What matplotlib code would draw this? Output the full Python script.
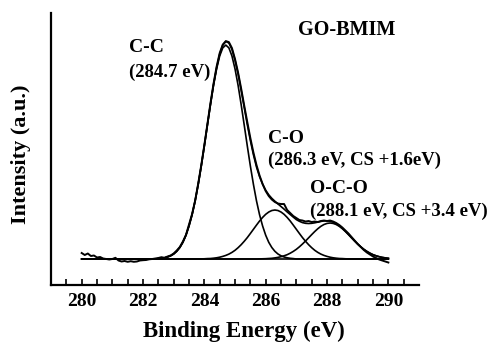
import numpy as np
import matplotlib
matplotlib.use("Agg")
import matplotlib.pyplot as plt

# Binding energy grid (eV), 280.0 ... 290.0 in 0.1 eV steps
energy = [round(280.0 + 0.1 * i, 1) for i in range(101)]

# Fitted components (arbitrary intensity units)
cc_peak = [0]*25 + [0.4, 0.7, 1.2, 2.0, 3.2, 5.0, 7.7, 11.5, 16.7, 23.8, 33.0, 44.3, 58.2, 74.7,
           93.1, 113.2, 134.0, 154.5, 173.8, 190.2, 203.1, 211.2, 214.0,
           211.2, 203.1, 190.2, 173.8, 154.5, 134.0, 113.2, 93.1, 74.7, 58.2, 44.3, 33.0,
           23.8, 16.7, 11.5, 7.7, 5.0, 3.2, 2.0, 1.2, 0.7, 0.4] + [0]*31
co_peak = [0]*39 + [0.1, 0.2, 0.4, 0.5, 0.8, 1.2, 1.8, 2.6, 3.6, 4.9, 6.6, 8.7, 11.3, 14.3, 17.7,
           21.4, 25.5, 29.7, 33.9, 38.0, 41.6, 44.7, 47.0, 48.5, 49.0,
           48.5, 47.0, 44.7, 41.6, 38.0, 33.9, 29.7, 25.5, 21.4, 17.7, 14.3, 11.3, 8.7, 6.6,
           4.9, 3.6, 2.6, 1.8, 1.2, 0.8, 0.5, 0.4, 0.2, 0.1] + [0]*13
oco_peak = [0]*58 + [0.1, 0.2, 0.3, 0.5, 0.7, 1.1, 1.6, 2.3, 3.2, 4.3, 5.8, 7.6, 9.7, 12.2, 15.0,
            18.0, 21.2, 24.4, 27.5, 30.3, 32.7, 34.5, 35.6, 36.0,
            35.6, 34.5, 32.7, 30.3, 27.5, 24.4, 21.2, 18.0, 15.0, 12.2, 9.7, 7.6, 5.8, 4.3,
            3.2, 2.3, 1.6, 1.1, 0.7]

measured = [6, 4, 5.5, 3, 3.5, 1.5, 2, 0.5, 0, -0.5,
            0, 1.2, -1.5, -2.5, -2, -2.8, -2.2, -2.8, -2.5, -1.5,
            -1.2, -1, -0.3, 0, 0.5, 1, 1.8, 1.2, 2.5, 3.5,
            5.5, 8.5, 12, 17.5, 24, 34.5, 45, 58.5, 75.5, 94,
            114, 135, 156, 175.5, 192.5, 206, 214.5, 218, 217, 211,
            200, 186.5, 170.5, 153.5, 137, 121, 106.5, 94, 83.5, 75,
            68, 63, 59.5, 57, 55.5, 55, 55, 49, 46, 43,
            41, 39, 38.5, 37.5, 38, 37, 37.5, 37, 38, 38.5,
            38, 38.5, 37.5, 36, 34, 31.5, 28.5, 25.5, 22, 18.5,
            15, 12, 9, 6.5, 4.5, 2.5, 1, -0.5, -1.5, -2.5, -3.5]

baseline_x = [280.0, 290.0]
baseline_y = [0.0, 0.0]

fit_sum = [a + b + c for a, b, c in zip(cc_peak, co_peak, oco_peak)]

plt.rcParams['font.family'] = ['Liberation Serif', 'DejaVu Serif']
plt.rcParams['font.weight'] = 'bold'

fig = plt.figure(figsize=(4.91, 3.42), dpi=100)
ax = fig.add_axes([0.1039, 0.1667, 0.7495, 0.795])

lw = 1.2
ax.plot(baseline_x, baseline_y, color='black', lw=lw)
ax.plot(energy, cc_peak, color='black', lw=lw)
ax.plot(energy, co_peak, color='black', lw=lw)
ax.plot(energy, oco_peak, color='black', lw=lw)
ax.plot(energy, fit_sum, color='black', lw=lw)
ax.plot(energy, measured, color='black', lw=1.4)

ax.set_xlim(279, 291)
ax.set_ylim(-26, 246)

for s in ['top', 'right']:
    ax.spines[s].set_visible(False)
for s in ['left', 'bottom']:
    ax.spines[s].set_linewidth(1.6)

ax.set_yticks([])
ax.set_xticks([280, 282, 284, 286, 288, 290])
ax.set_xticks(np.arange(279.5, 291.0, 0.5), minor=True)
ax.tick_params(axis='x', which='both', direction='in', length=4, width=1.2)
ax.tick_params(axis='x', which='major', pad=6, labelsize=14)
for lab in ax.get_xticklabels():
    lab.set_fontweight('bold')

W, H = 491.0, 342.0
fig.text(244.0 / W, 1 - 337.5 / H, 'Binding Energy (eV)', fontsize=16.5, fontweight='bold',
         ha='center', va='baseline')
fig.text(21.5 / W, 1 - 154.0 / H, 'Intensity (a.u.)', fontsize=16, fontweight='bold',
         ha='center', va='center', rotation=90)

fs = 13.5
ax.text(281.54, 207, 'C-C', fontsize=14, fontweight='bold', va='baseline')
ax.text(281.54, 182, '(284.7 eV)', fontsize=fs, fontweight='bold', va='baseline')
ax.text(287.05, 224, 'GO-BMIM', fontsize=14.5, fontweight='bold', va='baseline')
ax.text(286.07, 116, 'C-O', fontsize=14, fontweight='bold', va='baseline')
ax.text(286.07, 94, '(286.3 eV, CS +1.6eV)', fontsize=fs, fontweight='bold', va='baseline')
ax.text(287.44, 66, 'O-C-O', fontsize=14, fontweight='bold', va='baseline')
ax.text(287.44, 43, '(288.1 eV, CS +3.4 eV)', fontsize=fs, fontweight='bold', va='baseline')

fig.savefig("out.png", dpi=100)
